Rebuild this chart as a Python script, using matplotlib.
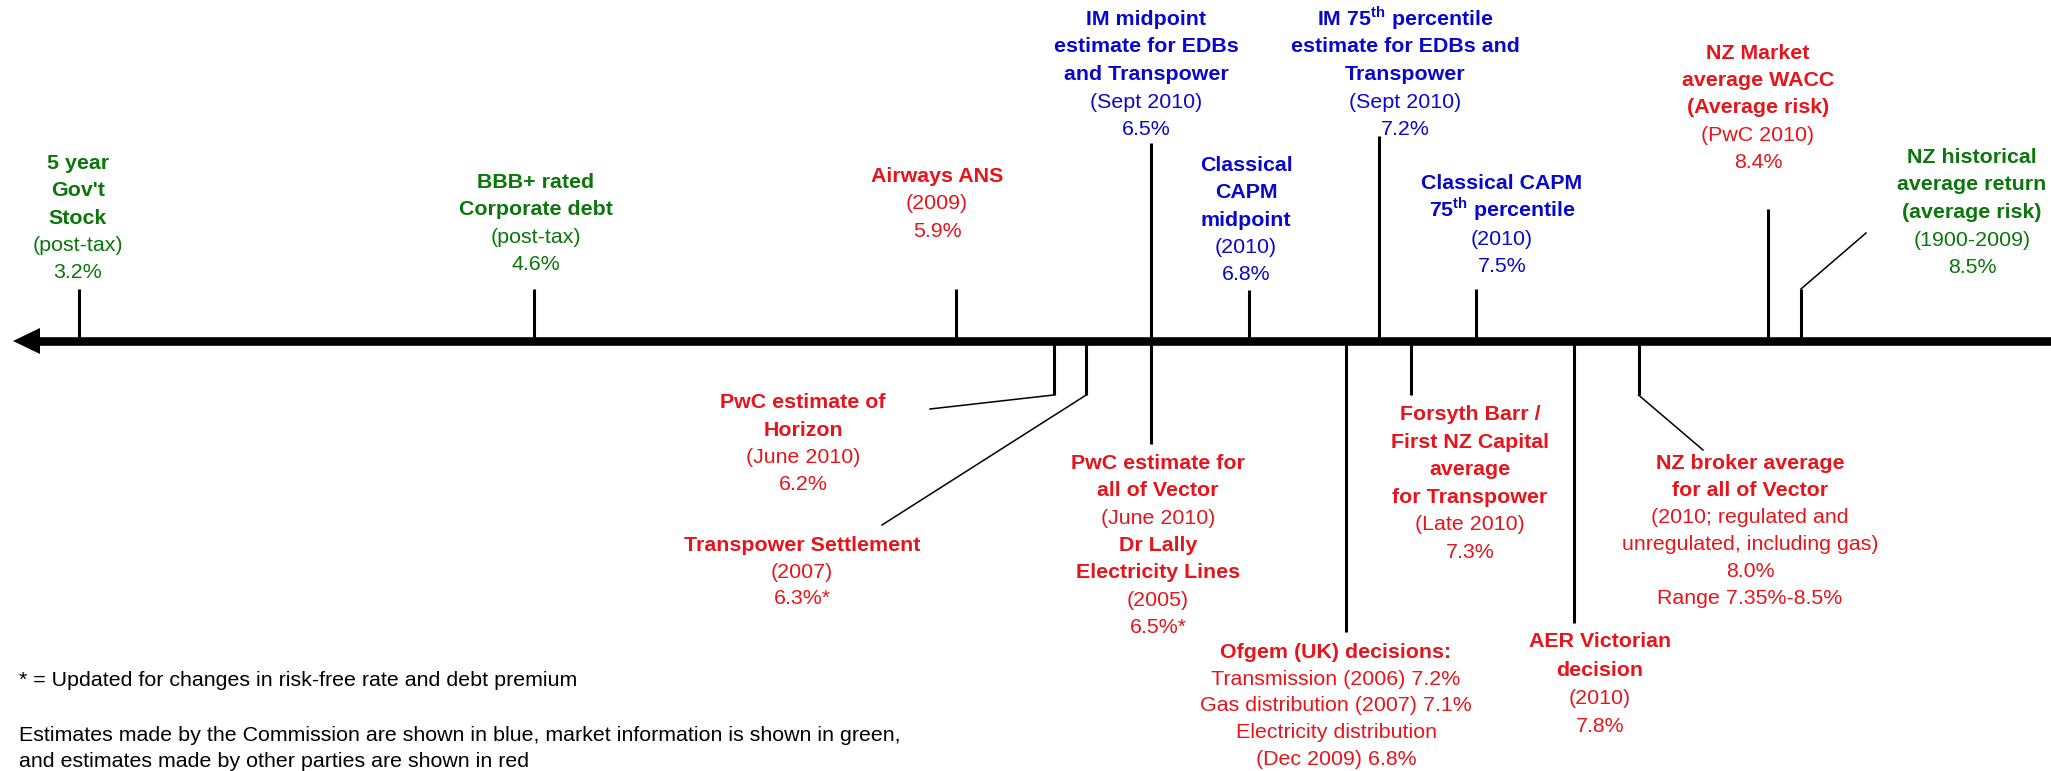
import matplotlib
matplotlib.use('Agg')
import matplotlib.pyplot as plt

plt.rcParams['font.family'] = ['Liberation Sans', 'DejaVu Sans']
plt.rcParams['mathtext.fontset'] = 'custom'
plt.rcParams['mathtext.rm'] = 'Liberation Sans'
plt.rcParams['mathtext.bf'] = 'Liberation Sans:bold'

W, H = 2051, 771

# WACC estimates (%) in the order they sit on the line
wacc = [3.2, 4.6, 5.9, 6.2, 6.3, 6.5, 6.5, 6.8, 7.1, 7.2, 7.3, 7.5, 7.8, 8.0, 8.4, 8.5]
source = ['market', 'market', 'other', 'other', 'other', 'commission', 'other',
          'commission', 'other', 'commission', 'other', 'commission', 'other',
          'other', 'other', 'market']

# label text, '#' = bold line, {v} = the estimate itself
label_text = [
    ['#5 year', "#Gov't", '#Stock', '(post-tax)', '{v}%'],
    ['#BBB+ rated', '#Corporate debt', '(post-tax)', '{v}%'],
    ['#Airways ANS', '(2009)', '{v}%'],
    ['#PwC estimate of', '#Horizon', '(June 2010)', '{v}%'],
    ['#Transpower Settlement', '(2007)', '{v}%*'],
    ['#IM midpoint', '#estimate for EDBs', '#and Transpower', '(Sept 2010)', '{v}%'],
    ['#PwC estimate for', '#all of Vector', '(June 2010)', '#Dr Lally',
     '#Electricity Lines', '(2005)', '{v}%*'],
    ['#Classical', '#CAPM', '#midpoint', '(2010)', '{v}%'],
    ['#Ofgem (UK) decisions:', 'Transmission (2006) 7.2%', 'Gas distribution (2007) 7.1%',
     'Electricity distribution', '(Dec 2009) 6.8%'],
    [r'#IM 75$^{\mathbf{th}}$ percentile', '#estimate for EDBs and', '#Transpower',
     '(Sept 2010)', '{v}%'],
    ['#Forsyth Barr /', '#First NZ Capital', '#average', '#for Transpower',
     '(Late 2010)', '{v}%'],
    ['#Classical CAPM', r'#75$^{\mathbf{th}}$ percentile', '(2010)', '{v}%'],
    ['#AER Victorian', '#decision', '(2010)', '{v}%'],
    ['#NZ broker average', '#for all of Vector', '(2010; regulated and',
     'unregulated, including gas)', '{v}%', 'Range 7.35%-8.5%'],
    ['#NZ Market', '#average WACC', '#(Average risk)', '(PwC 2010)', '{v}%'],
    ['#NZ historical', '#average return', '#(average risk)', '(1900-2009)', '{v}%'],
]

footnotes = ['* = Updated for changes in risk-free rate and debt premium',
             'Estimates made by the Commission are shown in blue, market information is shown in green,',
             'and estimates made by other parties are shown in red']

colors = {'commission': '#0808CC', 'market': '#0B760B', 'other': '#E8141B'}

# layout in pixels: tick end, label centre, first baseline, line step, leader end
tick_end = [289, 289, 289, 395, 395, 143, 444, 290, 632, 136, 395, 289, 623, 395, 209, 289]
label_x = [78, 536, 937, 803, 802, 1146, 1158, 1246, 1336, 1405, 1470, 1502, 1600, 1750, 1758, 1972]
label_y = [169, 188, 182, 408, 551, 25, 469, 171, 658, 25, 420, 189, 647, 469, 59, 163]
line_step = [27.3, 27.3, 27.5, 27.5, 26.5, 27.5, 27.3, 27.3, 26.7, 27.5, 27.6, 27.8, 28.5, 27.1, 27.2, 27.5]
leaders = {3: (930, 409), 4: (882, 525), 13: (1703, 450), 15: (1866, 233)}

PX_PER_PCT = 324.9
X0 = 3.2 - 79 / PX_PER_PCT
AXIS_Y = 341
FS = 15.4


def px_to_val(x):
    return X0 + x / PX_PER_PCT


fig = plt.figure(figsize=(W / 100, H / 100), dpi=100)
ax = fig.add_axes([0, 0, 1, 1])
ax.set_xlim(X0, px_to_val(W))
ax.set_ylim(H, 0)
ax.axis('off')

# main line with arrow head on the left
ax.plot([px_to_val(38), px_to_val(W)], [AXIS_Y, AXIS_Y], color='black', lw=6.2,
        solid_capstyle='butt')
ax.fill([px_to_val(13), px_to_val(40), px_to_val(40)], [AXIS_Y, AXIS_Y - 13, AXIS_Y + 13],
        color='black', lw=0)

for i, v in enumerate(wacc):
    ax.plot([v, v], [AXIS_Y, tick_end[i]], color='black', lw=2.2, solid_capstyle='butt')
    if i in leaders:
        lx, ly = leaders[i]
        ax.plot([v, px_to_val(lx)], [tick_end[i], ly], color='black', lw=1.1)

    c = colors[source[i]]
    for j, line in enumerate(label_text[i]):
        bold = line.startswith('#')
        line = line.lstrip('#').replace('{v}', f'{v:.1f}')
        y = label_y[i] + j * line_step[i]
        ax.text(label_x[i] / W, 1 - y / H, line, transform=ax.transAxes,
                ha='center', va='baseline', fontsize=FS, color=c,
                fontweight='bold' if bold else 'normal')

for y, note in zip([686, 741, 767], footnotes):
    ax.text(19 / W, 1 - y / H, note, transform=ax.transAxes, ha='left', va='baseline',
            fontsize=FS, color='black')

fig.savefig('out.png', dpi=100, facecolor='white')
